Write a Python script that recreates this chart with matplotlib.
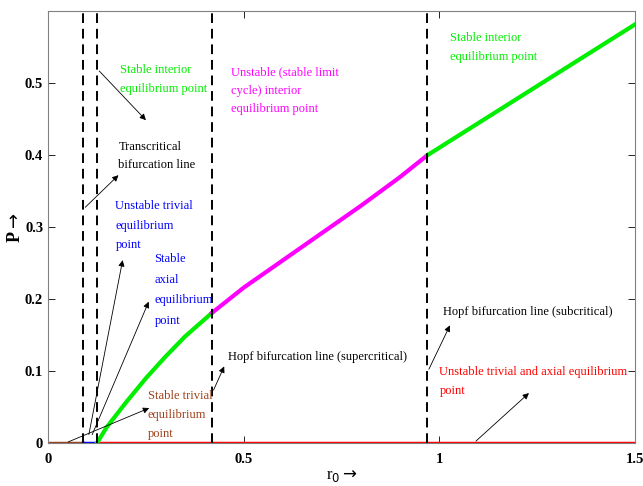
import numpy as np
import matplotlib.pyplot as plt

plt.rcParams['font.family'] = ['Liberation Serif', 'DejaVu Serif']

# bifurcation values of r0
r_tc1 = 0.089
r_tc2 = 0.125
r_hopf_sup = 0.419
r_hopf_sub = 0.969

# interior equilibrium P* along r0
r_stable1 = [0.125, 0.15, 0.2, 0.25, 0.3, 0.35, 0.419]
p_stable1 = [0.0, 0.022, 0.057, 0.09, 0.12, 0.148, 0.181]
r_unstable = [0.419, 0.5, 0.6, 0.7, 0.8, 0.9, 0.969]
p_unstable = [0.181, 0.216, 0.254, 0.292, 0.33, 0.37, 0.40]
r_stable2 = [0.969, 1.5]
p_stable2 = [0.40, 0.582]

fig = plt.figure(figsize=(6.43, 4.86), dpi=100)
ax = fig.add_axes([0.0747, 0.0885, 0.913, 0.888])

# trivial / axial branches on P = 0
ax.plot([0, r_tc1], [0, 0], color='#a0401a', lw=2.5)
ax.plot([r_tc1, r_tc2], [0, 0], color='blue', lw=2.5)
ax.plot([r_tc2, 1.5], [0, 0], color='red', lw=2.5)

ax.plot(r_stable1, p_stable1, color='#00ee00', lw=3)
ax.plot(r_unstable, p_unstable, color='magenta', lw=3)
ax.plot(r_stable2, p_stable2, color='#00ee00', lw=3)

for r in [r_tc1, r_tc2, r_hopf_sup, r_hopf_sub]:
    ax.axvline(r, color='black', lw=1.4, ls=(0, (5, 3)))

fs = 9
ls = 1.75
arr = dict(arrowstyle='-|>', color='black', lw=0.6, mutation_scale=9)

ax.text(0.185, 0.505, 'Stable interior\nequilibrium point', color='#00ee00',
        fontsize=fs, linespacing=ls, va='center')
ax.annotate('', xy=(0.255, 0.446), xytext=(0.126, 0.52), arrowprops=arr)

ax.text(0.18, 0.399, 'Transcritical\nbifurcation line', color='black',
        fontsize=fs, linespacing=ls, va='center')
ax.annotate('', xy=(0.185, 0.375), xytext=(0.09, 0.325), arrowprops=arr)

ax.text(0.172, 0.302, 'Unstable trivial\nequilibrium\npoint', color='blue',
        fontsize=fs, linespacing=1.85, va='center')
ax.annotate('', xy=(0.192, 0.258), xytext=(0.103, 0.008), arrowprops=arr)

ax.text(0.272, 0.213, 'Stable\naxial\nequilibrium\npoint', color='blue',
        fontsize=fs, linespacing=1.95, va='center')
ax.annotate('', xy=(0.26, 0.2), xytext=(0.11, 0.008), arrowprops=arr)

ax.text(0.255, 0.039, 'Stable trivial\nequilibrium\npoint', color='#a0401a',
        fontsize=fs, linespacing=ls, va='center')
ax.annotate('', xy=(0.265, 0.05), xytext=(0.045, 0.0), arrowprops=arr)

ax.text(0.46, 0.12, 'Hopf bifurcation line (supercritical)', color='black',
        fontsize=fs, va='center')
ax.annotate('', xy=(0.453, 0.11), xytext=(0.42, 0.07), arrowprops=arr)

ax.text(1.01, 0.182, 'Hopf bifurcation line (subcritical)', color='black',
        fontsize=fs, va='center')
ax.annotate('', xy=(1.03, 0.167), xytext=(0.97, 0.099), arrowprops=arr)

ax.text(1.0, 0.085, 'Unstable trivial and axial equilibrium\npoint', color='red',
        fontsize=fs, linespacing=ls, va='center')
ax.annotate('', xy=(1.234, 0.072), xytext=(1.088, 0.0), arrowprops=arr)

ax.text(0.468, 0.49, 'Unstable (stable limit\ncycle) interior\nequilibrium point',
        color='magenta', fontsize=fs, linespacing=ls, va='center')

ax.text(1.028, 0.55, 'Stable interior\nequilibrium point', color='#00ee00',
        fontsize=fs, linespacing=ls, va='center')

ax.set_xlim(0, 1.5)
ax.set_ylim(0, 0.6)
ax.set_xticks([0, 0.5, 1, 1.5])
ax.set_xticklabels(['0', '0.5', '1', '1.5'])
ax.set_yticks([0, 0.1, 0.2, 0.3, 0.4, 0.5])
ax.set_yticklabels(['0', '0.1', '0.2', '0.3', '0.4', '0.5'])
ax.tick_params(direction='in', top=True, right=True, length=5, width=0.6,
               labelsize=10.5, colors='black')
ax.tick_params(axis='x', pad=7)
for lab in ax.get_xticklabels() + ax.get_yticklabels():
    lab.set_fontweight('bold')
for sp in ax.spines.values():
    sp.set_color('#808080')
    sp.set_linewidth(0.8)

ax.set_xlabel(r'r$_0$$\rightarrow$', fontsize=12, labelpad=2)
ax.set_ylabel(r'P$\rightarrow$', fontsize=13, fontweight='bold', labelpad=1)

fig.savefig('out.png', dpi=100)
